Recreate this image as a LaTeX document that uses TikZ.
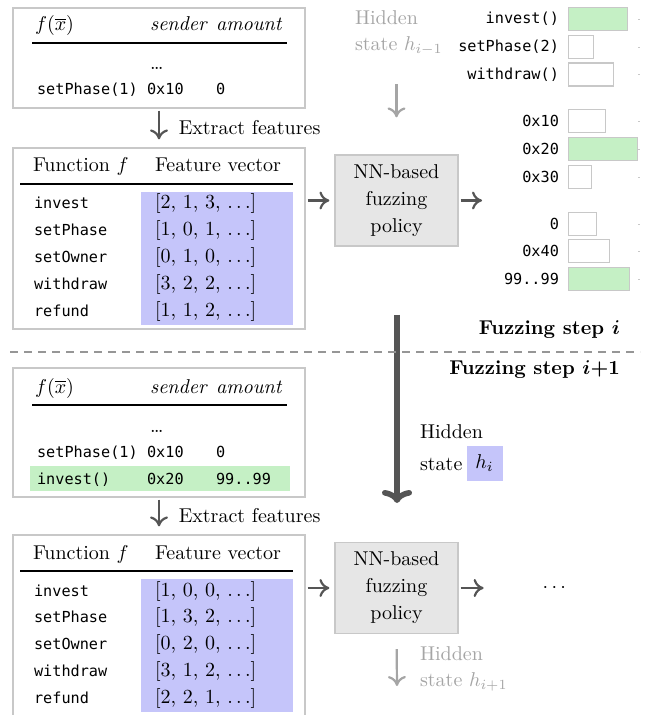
\documentclass[tikz,border=0pt]{standalone}
\usepackage{amsmath,amssymb}
\usepackage{fontspec}
\setmonofont{DejaVu Sans Mono}[Scale=0.76]
\usetikzlibrary{calc,positioning,arrows.meta}

\definecolor{boxgray}{RGB}{200,200,200}
\definecolor{featblue}{RGB}{197,197,250}
\definecolor{txgreen}{RGB}{197,240,197}
\definecolor{policyfill}{RGB}{230,230,230}
\definecolor{arrowgray}{RGB}{85,85,85}
\definecolor{hiddengray}{RGB}{165,165,165}
\definecolor{dashgray}{RGB}{150,150,150}

\begin{document}
\begin{tikzpicture}[x=0.5pt, y=-0.5pt,
    panel/.style={draw=boxgray, line width=0.6pt, minimum width=146pt},
    policy/.style={draw=boxgray, fill=policyfill, line width=0.6pt,
      minimum width=61.5pt, minimum height=45.5pt, align=center,
      font=\fontsize{10}{13.5}\selectfont},
    flow/.style={-{Computer Modern Rightarrow[length=5pt,width=9pt]}, arrowgray, line width=1.1pt},
    memory/.style={flow, hiddengray},
    bar/.style={draw=boxgray, line width=0.6pt, minimum height=11.5pt, inner sep=0pt, anchor=west},
    mono/.style={anchor=base west, font=\ttfamily},
    hrule/.style={line width=0.7pt},
    hidden/.style={anchor=west, align=left, hiddengray, font=\fontsize{10}{13}\selectfont}]

    \useasboundingbox (0,0) rectangle (647,715);

    % Transactions so far (step i)
    \node[panel, minimum height=50pt] (callsA) at (159,58) {};
    \node[anchor=base west] (fxA) at (28,31) {$f(\overline{x})$};
    \node[anchor=base west] (sndA) at (143,31) {\textit{sender}};
    \node[anchor=base west] (amtA) at (209,31) {\textit{amount}};
    \draw[hrule] (32,43) -- (287,43);
    \node[anchor=base west] (dotsA) at (143,70) {\ldots};
    \node[mono] (callA1) at (30,95) {setPhase(1)};
    \node[mono] (sndA1) at (140,95) {0x10};
    \node[mono] (amtA1) at (209,95) {0};

    % Feature table (step i)
    \node[panel, minimum height=90.5pt] (featA) at (159,238.5) {};
    \fill[featblue] (141,192) rectangle (293,325);
    \node[anchor=base west] (fnHeadA) at (26,172) {Function $f$};
    \node[anchor=base west] (fvHeadA) at (148,172) {Feature vector};
    \draw[hrule] (20,184) -- (293,184);
    \foreach \fn/\fv [count=\k] in {invest/{2, 1, 3}, setPhase/{1, 0, 1},
        setOwner/{0, 1, 0}, withdraw/{3, 2, 2}, refund/{1, 1, 2}} {
      \node[mono] (fnA\k) at (27,182.2+26.8*\k) {\fn};
      \node[anchor=base west] (fvA\k) at (148,182.2+26.8*\k) {[\fv, $\ldots$]};
    }
    \draw[flow, shorten <=1pt, shorten >=4pt] (callsA.south) -- node[right, xshift=6pt, text=black] (extA) {Extract features} (featA.north);

    % Policy (step i)
    \node[policy] (nnA) at (396.5,200.5) {NN-based\\fuzzing\\policy};
    \draw[flow, shorten <=1pt, shorten >=2.5pt] (featA.east |- nnA.west) -- (nnA.west);
    \coordinate (outA) at (482,200.5);
    \draw[flow, shorten <=1pt] (nnA.east) -- (outA);
    \node[hidden] (hidA) at (348,33) {Hidden\\state $h_{i-1}$};
    \draw[memory, shorten <=11pt, shorten >=18.5pt] (hidA.south -| nnA) -- (nnA.north);

    % Output distributions
    \foreach \lab/\len/\col/\y [count=\k] in {{invest()}/59/txgreen/19,
        {setPhase(2)}/25/white/47, {withdraw()}/45/white/74.5,
        {0x10}/37/white/121, {0x20}/69/txgreen/149, {0x30}/23/white/177,
        {0}/28/white/224, {0x40}/41/white/251, {99..99}/61/txgreen/279} {
      \node[anchor=east, font=\ttfamily] (lab\k) at (566,\y) {\lab};
      \node[bar, fill=\col, minimum width=\len*0.5pt] (bar\k) at (568,\y) {};
      \draw[boxgray, line width=0.4pt] (638,\y) -- (640,\y);
    }

    % Step separator
    \coordinate (stepTop) at (397,315);
    \coordinate (stepBot) at (397,503);
    \draw[-{Computer Modern Rightarrow[length=6.5pt,width=15pt]}, arrowgray, line width=2.8pt] (stepTop) -- (stepBot);
    \draw[dashgray, line width=0.7pt, dash pattern=on 4pt off 3pt] (10,352) -- (640,352);
    \node[anchor=base east, font=\bfseries] (stepI) at (627,335) {Fuzzing step $\boldsymbol{i}$};
    \node[anchor=base east, font=\bfseries] (stepJ) at (627,374) {Fuzzing step $\boldsymbol{i}$+1};
    \node[anchor=base west] (hidB) at (413,438) {Hidden};
    \node[anchor=base west] (hidBs) at (413,470) {state};
    \node[fill=featblue, minimum width=18pt, minimum height=17.5pt, inner sep=0pt] (hidBh) at (484.5,463.5) {$h_i$};

    % Transactions so far (step i+1)
    \node[panel, minimum height=64.5pt] (callsB) at (159,432.5) {};
    \fill[txgreen] (30,466) rectangle (290,491);
    \node[anchor=base west] (fxB) at (28,393) {$f(\overline{x})$};
    \node[anchor=base west] (sndB) at (143,393) {\textit{sender}};
    \node[anchor=base west] (amtB) at (209,393) {\textit{amount}};
    \draw[hrule] (32,405) -- (287,405);
    \node[anchor=base west] (dotsB) at (143,432) {\ldots};
    \node[mono] (callB1) at (30,457) {setPhase(1)};
    \node[mono] (sndB1) at (140,457) {0x10};
    \node[mono] (amtB1) at (209,457) {0};
    \node[mono] (callB2) at (30,484) {invest()};
    \node[mono] (sndB2) at (140,484) {0x20};
    \node[mono] (amtB2) at (209,484) {99..99};

    % Feature table (step i+1)
    \node[panel, minimum height=102.5pt] (featB) at (159,637.5) {};
    \fill[featblue] (141,579) rectangle (293,712);
    \node[anchor=base west] (fnHeadB) at (26,559) {Function $f$};
    \node[anchor=base west] (fvHeadB) at (148,559) {Feature vector};
    \draw[hrule] (20,571) -- (293,571);
    \foreach \fn/\fv [count=\k] in {invest/{1, 0, 0}, setPhase/{1, 3, 2},
        setOwner/{0, 2, 0}, withdraw/{3, 1, 2}, refund/{2, 2, 1}} {
      \node[mono] (fnB\k) at (27,569.2+26.8*\k) {\fn};
      \node[anchor=base west] (fvB\k) at (148,569.2+26.8*\k) {[\fv, $\ldots$]};
    }
    \draw[flow, shorten <=1pt, shorten >=4pt] (callsB.south) -- node[right, xshift=6pt, text=black] (extB) {Extract features} (featB.north);

    % Policy (step i+1)
    \node[policy] (nnB) at (396.5,588) {NN-based\\fuzzing\\policy};
    \draw[flow, shorten <=1pt, shorten >=2.5pt] (featB.east |- nnB.west) -- (nnB.west);
    \node (moreB) at (556,588) {$\cdots$};
    \draw[flow, shorten <=1pt, shorten >=26pt] (nnB.east) -- (moreB);
    \node[hidden] (hidC) at (413,669) {Hidden\\state $h_{i+1}$};
    \coordinate (hidCend) at (397,686);
    \draw[memory, shorten <=7.5pt] (nnB.south) -- (hidCend);
\end{tikzpicture}
\end{document}
